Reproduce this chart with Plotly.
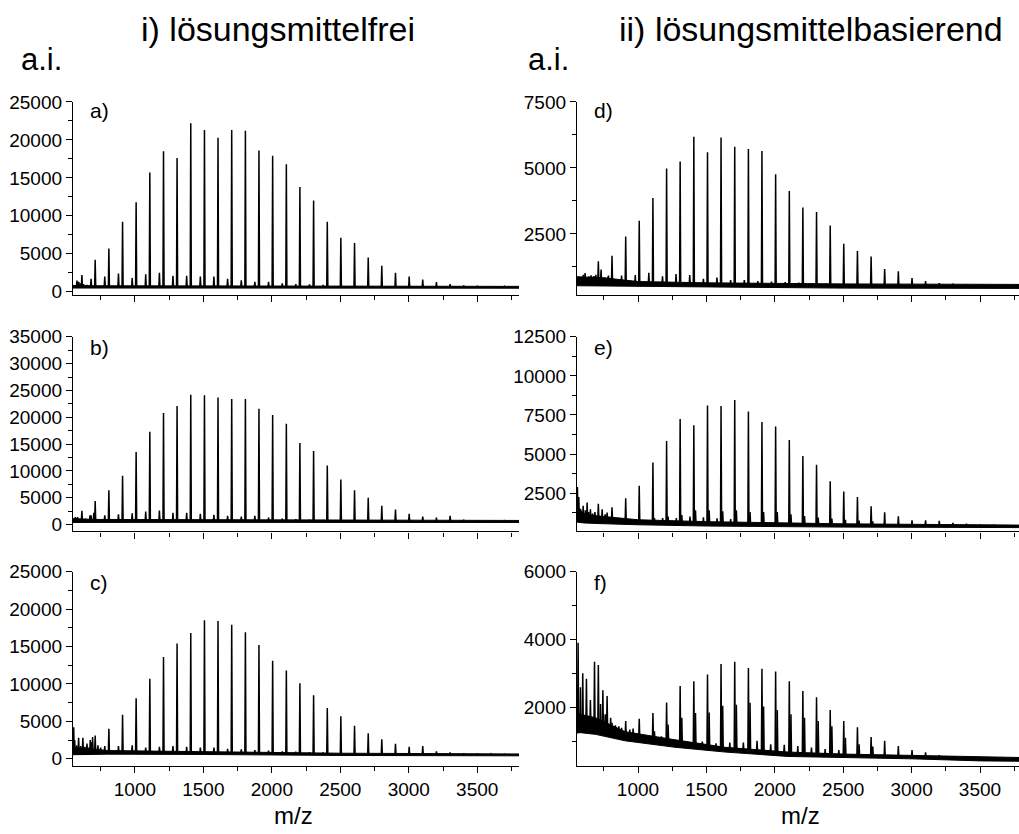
import numpy as np
import plotly.graph_objects as go

# ---------------- data ----------------
# main oligomer peak series (m/z), shared by all panels
MZ = [710, 810, 910, 1009, 1109, 1209, 1308, 1408, 1508, 1607, 1707, 1807, 1906, 2006, 2106,
      2205, 2305, 2405, 2504, 2604, 2704, 2803, 2903, 3003, 3102, 3202, 3302, 3401, 3501, 3601, 3700]

H_A = [4200, 5700, 9200, 11800, 15700, 18500, 17600, 22200, 21300, 20300, 21300, 21200, 18600, 17900, 16800,
       13800, 12000, 9200, 7100, 6400, 4500, 3400, 2500, 2000, 1600, 1250, 1000, 820, 770, 720, 700]
H_B = [4400, 6400, 9100, 13500, 17300, 20800, 22100, 24200, 24100, 23700, 23400, 23400, 21600, 20400, 18800,
       15200, 13700, 11000, 8400, 6400, 5000, 3500, 2800, 2000, 1500, 1300, 1600, 900, 800, 750, 700]
H_C = [3100, 4000, 5900, 8100, 10700, 13600, 15400, 16800, 18500, 18400, 17900, 16900, 15200, 13100, 11800,
       10100, 8500, 6800, 5700, 4400, 3400, 2600, 2000, 1600, 1700, 1000, 870, 750, 700, 650, 600]
H_D = [1470, 1680, 2400, 3000, 3860, 4980, 5250, 6180, 5600, 6150, 5800, 5720, 5640, 4760, 4130,
       3500, 3330, 2820, 2130, 1860, 1650, 1170, 1090, 830, 720, 640, 620, 600, 580, 560, 540]
H_E = [1830, 1600, 2180, 2980, 4460, 5830, 7240, 6840, 8100, 8080, 8460, 7720, 7050, 6770, 5900,
       4880, 4310, 3260, 2600, 2250, 1660, 1280, 1030, 770, 770, 730, 600, 550, 500, 480, 450]
H_F = [3250, 1550, 1600, 1670, 1840, 2150, 2630, 2770, 2970, 3280, 3350, 3160, 3140, 3060, 2770,
       2490, 2300, 1930, 1600, 1420, 1130, 1020, 870, 750, 680, 600, 570, 550, 530, 510, 490]

# secondary series (about 30 below the main peaks)
MZ_MINOR = [680, 780, 880, 980, 1079, 1179, 1278, 1378, 1478, 1577, 1677, 1777, 1876, 1976, 2076, 2175, 2275, 2375]
M_A = [1700, 2000, 2400, 1800, 2300, 2500, 2100, 2100, 2000, 2000, 1700, 1500, 1300, 1300, 1100, 1000, 950, 900]
M_B = [1700, 1700, 1900, 2100, 2400, 2600, 2200, 2200, 2000, 1800, 1600, 1500, 1600, 1300, 1100, 1000, 900, 850]
M_C = [1200, 1700, 1700, 1800, 1500, 1600, 1700, 1600, 1500, 1500, 1350, 1260, 1180, 1100, 1000, 950, 900, 850]
M_D = [900, 880, 930, 950, 1030, 900, 980, 950, 800, 850, 750, 750, 720, 700, 680, 660, 640, 620]

# satellites just above the main peaks (right column)
MZ_SAT = [1120, 1220, 1320, 1420, 1520, 1619, 1719, 1819, 1918, 2018, 2118, 2217, 2317, 2417, 2516, 2616, 2716]
S_E = [900, 1000, 1100, 1410, 1410, 1340, 1410, 1300, 1300, 1300, 1150, 1030, 940, 880, 800, 750, 700]
S_F = [1300, 1500, 1700, 1840, 1850, 2050, 2080, 2140, 2030, 1930, 1800, 1700, 1600, 1450, 1110, 920, 850]

# low-mass spikes and other small peaks (m/z, intensity)
LOW_A = [(577, 1450), (590, 1300), (600, 1100), (613, 2200), (625, 1000), (650, 900)]
LOW_B = [(565, 1400), (581, 1400), (613, 2550), (640, 1100), (672, 1700), (700, 2200)]
LOW_C = [(553, 4200), (560, 2500), (575, 1800), (589, 2800), (605, 1700), (620, 2800), (635, 1600),
         (650, 2050), (662, 1500), (674, 2500), (683, 2200), (691, 2900), (730, 1800), (750, 1500)]
LOW_D = [(584, 840), (600, 950), (613, 1020), (640, 900), (657, 930), (675, 900), (692, 950),
         (730, 1150), (760, 850), (784, 930)]
LOW_E = [(557, 2900), (567, 2250), (580, 1500), (599, 1700), (615, 1400), (628, 1900), (640, 1300),
         (652, 1470), (668, 1200), (685, 1300), (738, 1470), (760, 1150), (774, 1260), (1180, 900),
         (1280, 900), (1380, 1000), (1478, 950), (1578, 900), (1677, 850)]
LOW_F = [(562, 3910), (579, 2600), (596, 3010), (623, 2850), (652, 2220), (682, 3350), (726, 2100),
         (743, 2510), (760, 1800), (774, 2340), (800, 1700), (835, 1480), (860, 1450), (880, 1400),
         (940, 1350), (964, 1380), (1171, 1150), (1271, 1050), (1370, 980), (1470, 1000), (1570, 950),
         (1671, 970), (1770, 970), (1870, 1020), (1970, 920), (2069, 900), (2168, 870), (2268, 820),
         (2368, 780), (2468, 750)]

# noisy baseline band: m/z anchors, lower and upper edge
BASE_A = ([548, 700, 1000, 2000, 3000, 3805], [480, 480, 480, 470, 460, 460], [820, 780, 760, 720, 700, 700])
BASE_B = ([548, 700, 1000, 2000, 3000, 3805], [380, 400, 400, 400, 380, 380], [1100, 950, 850, 800, 780, 760])
BASE_C = ([548, 700, 800, 1500, 2500, 3805], [550, 600, 620, 580, 450, 400], [1500, 1300, 1100, 950, 750, 650])
BASE_D = ([554, 750, 1000, 1500, 2500, 3785], [540, 530, 510, 480, 450, 440], [880, 840, 700, 650, 610, 590])
BASE_E = ([554, 600, 700, 1000, 1500, 2500, 3785], [650, 600, 560, 480, 400, 330, 300],
          [1700, 1200, 1050, 800, 680, 540, 460])
BASE_F = ([554, 580, 690, 906, 1271, 1637, 2097, 2504, 3004, 3503, 3785],
          [1250, 1260, 1210, 1020, 830, 690, 560, 530, 490, 430, 420],
          [1850, 1800, 1700, 1290, 1050, 830, 690, 630, 580, 550, 530])

X_TICKS = [1000, 1500, 2000, 2500, 3000, 3500]

# ---------------- layout geometry ----------------
W, H = 1019, 834
def fx(px): return px / W
def fy(py): return 1 - py / H

COLS = {"L": (fx(73), fx(519)), "R": (fx(577), 1.0)}
ROWS = [(fy(291), fy(94)), (fy(533), fy(334)), (fy(773), fy(574))]
ROW_LABEL_Y = [103, 345, 585]
XR = {"L": [548, 3805], "R": [554, 3785]}

panels = [
    # label, col, row, main, minor, sat, low, base, yrange, dtick, minor dtick
    ("a)", "L", 0, H_A, (MZ_MINOR, M_A), None, LOW_A, BASE_A, [-400, 25000], 5000, 2500),
    ("b)", "L", 1, H_B, (MZ_MINOR, M_B), None, LOW_B, BASE_B, [-1300, 35000], 5000, 2500),
    ("c)", "L", 2, H_C, (MZ_MINOR, M_C), None, LOW_C, BASE_C, [-1000, 25000], 5000, 2500),
    ("d)", "R", 0, H_D, (MZ_MINOR, M_D), None, LOW_D, BASE_D, [200, 7500], 2500, 1250),
    ("e)", "R", 1, H_E, None, (MZ_SAT, S_E), LOW_E, BASE_E, [50, 12500], 2500, 1250),
    ("f)", "R", 2, H_F, None, (MZ_SAT, S_F), LOW_F, BASE_F, [270, 6000], 2000, 1000),
]

fig = go.Figure()
FONT = "Liberation Sans, Arial, sans-serif"
HW = 4.0  # half width of a peak in m/z units

for i, (lab, col, row, main, minor, sat, low, base, yr, dt, mdt) in enumerate(panels):
    n = i + 1
    xa = "x" if n == 1 else f"x{n}"
    ya = "y" if n == 1 else f"y{n}"
    bx, blo, bhi = base
    pos = list(MZ); hts = list(main)
    if minor:
        pos += minor[0]; hts += minor[1]
    if sat:
        pos += sat[0]; hts += sat[1]
    pos += [p for p, _ in low]; hts += [h for _, h in low]
    order = np.argsort(pos)
    xs, ys = [], []
    bmid = [(a + b) / 2 for a, b in zip(blo, bhi)]
    for k in order:
        p, h = pos[k], hts[k]
        foot = float(np.interp(p, bx, bmid))
        xs += [p - HW, p, p + HW, None]
        ys += [foot, h, foot, None]
    # baseline band
    fig.add_trace(go.Scatter(x=list(bx) + list(bx)[::-1], y=list(blo) + list(bhi)[::-1],
                             fill="toself", fillcolor="black", mode="lines",
                             line=dict(color="black", width=1), xaxis=xa, yaxis=ya,
                             showlegend=False, hoverinfo="skip"))
    fig.add_trace(go.Scatter(x=xs, y=ys, mode="lines", line=dict(color="black", width=1.5),
                             xaxis=xa, yaxis=ya, showlegend=False, connectgaps=False))
    xkey = "xaxis" if n == 1 else f"xaxis{n}"
    ykey = "yaxis" if n == 1 else f"yaxis{n}"
    fig.layout[xkey] = dict(domain=COLS[col], range=XR[col], anchor=ya, showline=True,
                            linecolor="black", linewidth=1.3, ticks="outside", ticklen=6,
                            tickwidth=1.3, tickcolor="black", tickvals=X_TICKS,
                            showticklabels=(row == 2), showgrid=False, zeroline=False,
                            tickfont=dict(family=FONT, size=19, color="black"),
                            minor=dict(dtick=250, tick0=500, ticks="outside", ticklen=4,
                                       tickwidth=1, tickcolor="black", showgrid=False))
    fig.layout[ykey] = dict(domain=ROWS[row], range=yr, anchor=xa, showline=True,
                            linecolor="black", linewidth=1.3, ticks="outside", ticklen=6,
                            tickwidth=1.3, tickcolor="black", dtick=dt, tick0=0,
                            tickformat="d", showgrid=False, zeroline=False,
                            tickfont=dict(family=FONT, size=19, color="black"),
                            minor=dict(dtick=mdt, tick0=0, ticks="outside", ticklen=4,
                                       tickwidth=1, tickcolor="black", showgrid=False))
    lx = 88 if col == "L" else 592
    fig.add_annotation(text=lab, x=fx(lx), y=fy(ROW_LABEL_Y[row]), xref="paper", yref="paper",
                       xanchor="left", yanchor="middle", showarrow=False,
                       font=dict(family=FONT, size=21, color="black"))

ann = [
    ("i) lösungsmittelfrei", 278, 19, 34, "center"),
    ("ii) lösungsmittelbasierend", 811, 19, 34, "center"),
    ("a.i.", 19, 51, 31, "left"),
    ("a.i.", 526, 51, 31, "left"),
    ("m/z", 293, 823, 24, "center"),
    ("m/z", 800, 823, 24, "center"),
]
for t, px, py, fs, anc in ann:
    fig.add_annotation(text=t, x=fx(px), y=fy(py), xref="paper", yref="paper",
                       xanchor=anc, yanchor="middle", showarrow=False,
                       font=dict(family=FONT, size=fs, color="black"))

fig.update_layout(width=W, height=H, margin=dict(l=0, r=0, t=0, b=0),
                  paper_bgcolor="white", plot_bgcolor="white", showlegend=False)
fig.write_html("out.html")
